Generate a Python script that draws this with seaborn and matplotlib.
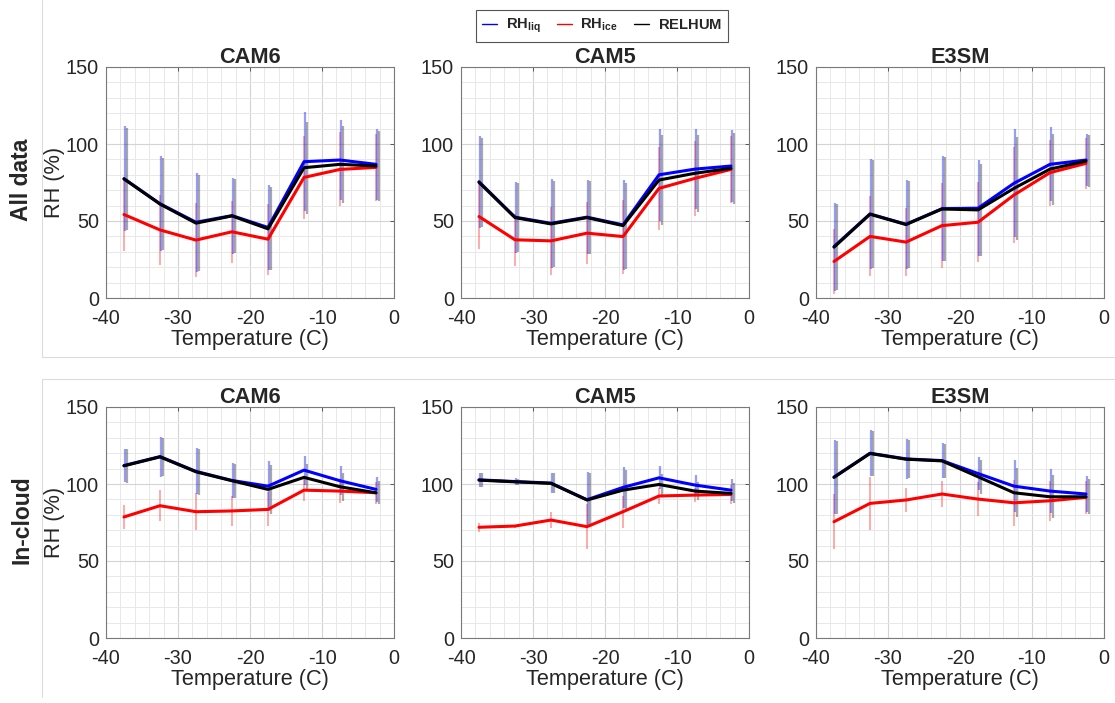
import numpy as np
import pandas as pd
import matplotlib
matplotlib.use("Agg")
import matplotlib.pyplot as plt
from matplotlib.lines import Line2D
from matplotlib.ticker import MultipleLocator
import seaborn as sns

# ---------------- data ----------------
temps = [-37.5, -32.5, -27.5, -22.5, -17.5, -12.5, -7.5, -2.5]
models = ["CAM6", "CAM5", "E3SM"]
rows = ["All data", "In-cloud"]
series_labels = ["RH_liq", "RH_ice", "RELHUM"]

# All data
cam6_all_liq = [77.5, 61.2, 49.2, 53.5, 45.8, 88.5, 89.6, 86.8]
cam6_all_ice = [54.2, 44.2, 37.6, 43.0, 38.2, 78.3, 83.5, 84.8]
cam6_all_rel = [77.3, 61.0, 48.6, 53.3, 44.9, 84.6, 86.8, 85.7]
cam6_all_liq_sd = [34, 30.7, 32, 24.7, 27.7, 32, 26, 23]
cam6_all_ice_sd = [24, 22.7, 24, 20, 23, 27, 24, 22]
cam6_all_rel_sd = [33, 30, 31, 24, 27, 30, 25, 22.5]

cam5_all_liq = [75.5, 52.5, 48.5, 52.5, 47.5, 80.0, 83.7, 85.7]
cam5_all_ice = [52.9, 37.8, 37.1, 42.1, 39.9, 71.2, 77.7, 83.5]
cam5_all_rel = [75.1, 52.2, 48.1, 52.2, 47.0, 76.6, 81.0, 84.2]
cam5_all_liq_sd = [30, 23, 29, 24, 29, 30, 26, 23.5]
cam5_all_ice_sd = [21, 17, 22, 20, 24, 27, 24.5, 22]
cam5_all_rel_sd = [29, 22.5, 28, 23.5, 28, 29, 25, 23]

e3sm_all_liq = [33.4, 54.6, 47.9, 58.0, 58.3, 74.5, 86.8, 89.6]
e3sm_all_ice = [23.7, 40.0, 36.3, 47.0, 49.2, 66.9, 81.4, 87.4]
e3sm_all_rel = [33.0, 54.4, 47.7, 57.8, 57.2, 71.2, 83.7, 88.9]
e3sm_all_liq_sd = [28.6, 35.6, 29, 34, 31, 35, 24, 17]
e3sm_all_ice_sd = [21, 26, 22, 27.5, 26, 31, 21.5, 16.5]
e3sm_all_rel_sd = [28, 35, 28.5, 33.5, 30, 33.5, 23, 17]

# In-cloud
cam6_cld_liq = [112.0, 117.8, 108.2, 102.3, 98.6, 109.0, 102.1, 96.5]
cam6_cld_ice = [78.6, 85.9, 82.0, 82.5, 83.5, 96.0, 95.4, 94.3]
cam6_cld_rel = [111.8, 117.6, 107.9, 102.1, 96.5, 104.3, 98.2, 94.3]
cam6_cld_liq_sd = [11, 13, 15, 11.3, 16.4, 9.5, 9.5, 8]
cam6_cld_ice_sd = [8, 10, 12, 10, 11, 7, 8, 7]
cam6_cld_rel_sd = [11, 12.5, 15, 11, 16, 9, 9, 7.5]

cam5_cld_liq = [102.7, 101.6, 100.6, 89.8, 97.8, 104.0, 99.3, 96.0]
cam5_cld_ice = [71.9, 72.7, 76.6, 72.3, 82.0, 92.2, 92.8, 93.2]
cam5_cld_rel = [102.5, 101.4, 100.4, 89.6, 96.0, 99.7, 95.4, 93.9]
cam5_cld_liq_sd = [4.5, 2, 6.5, 18, 13.5, 7.5, 6.5, 7]
cam5_cld_ice_sd = [3, 1, 5, 14.6, 10.5, 5, 4.5, 6]
cam5_cld_rel_sd = [4.5, 2, 6.5, 17.5, 13, 7, 6, 6.5]

e3sm_cld_liq = [104.5, 120.0, 116.3, 115.2, 106.8, 98.6, 95.4, 93.5]
e3sm_cld_ice = [75.5, 87.4, 89.6, 93.5, 90.2, 87.8, 89.1, 91.3]
e3sm_cld_rel = [104.3, 119.8, 116.1, 115.0, 104.7, 94.3, 91.7, 91.7]
e3sm_cld_liq_sd = [24, 15, 13, 11.3, 11, 17, 14.5, 11.6]
e3sm_cld_ice_sd = [18, 17, 7.5, 8.6, 11, 14.8, 13, 10.7]
e3sm_cld_rel_sd = [23.5, 14.5, 12.5, 11, 11, 16, 14, 11.5]

panels = {
    (0, 0): (cam6_all_liq, cam6_all_ice, cam6_all_rel, cam6_all_liq_sd, cam6_all_ice_sd, cam6_all_rel_sd),
    (0, 1): (cam5_all_liq, cam5_all_ice, cam5_all_rel, cam5_all_liq_sd, cam5_all_ice_sd, cam5_all_rel_sd),
    (0, 2): (e3sm_all_liq, e3sm_all_ice, e3sm_all_rel, e3sm_all_liq_sd, e3sm_all_ice_sd, e3sm_all_rel_sd),
    (1, 0): (cam6_cld_liq, cam6_cld_ice, cam6_cld_rel, cam6_cld_liq_sd, cam6_cld_ice_sd, cam6_cld_rel_sd),
    (1, 1): (cam5_cld_liq, cam5_cld_ice, cam5_cld_rel, cam5_cld_liq_sd, cam5_cld_ice_sd, cam5_cld_rel_sd),
    (1, 2): (e3sm_cld_liq, e3sm_cld_ice, e3sm_cld_rel, e3sm_cld_liq_sd, e3sm_cld_ice_sd, e3sm_cld_rel_sd),
}

# ---------------- style ----------------
sns.set_style("white")
plt.rcParams["font.family"] = ["Liberation Sans", "DejaVu Sans"]
plt.rcParams["axes.unicode_minus"] = False
plt.rcParams["mathtext.fontset"] = "custom"
plt.rcParams["mathtext.rm"] = "Liberation Sans"
plt.rcParams["mathtext.bf"] = "Liberation Sans:bold"
plt.rcParams["mathtext.it"] = "Liberation Sans:italic"

line_colors = {"RH_liq": "#0000ff", "RH_ice": "#ff0000", "RELHUM": "#000000"}
bar_colors = {"RH_liq": (0.1, 0.15, 0.95, 0.45), "RH_ice": (1.0, 0.1, 0.1, 0.4), "RELHUM": (0.15, 0.15, 0.2, 0.4)}
bar_offsets = {"RH_liq": 0.2, "RH_ice": -0.05, "RELHUM": 0.45}
bar_widths = {"RH_liq": 1.6, "RH_ice": 1.3, "RELHUM": 1.6}

TICK_FS = 14.3
LAB_FS = 15.7

W, H = 1115, 703
fig = plt.figure(figsize=(W / 100, H / 100), dpi=100)

col_left = [106, 461, 816]
ax_w = 288
row_top = [67, 407]
ax_h = 231

for (r, c), (liq, ice, rel, liq_sd, ice_sd, rel_sd) in panels.items():
    ax = fig.add_axes([col_left[c] / W, 1 - (row_top[r] + ax_h) / H, ax_w / W, ax_h / H])
    vals = {"RH_liq": liq, "RH_ice": ice, "RELHUM": rel}
    sds = {"RH_liq": liq_sd, "RH_ice": ice_sd, "RELHUM": rel_sd}

    # error bars
    for s in ["RH_ice", "RH_liq", "RELHUM"]:
        ax.errorbar(np.array(temps) + bar_offsets[s], vals[s], yerr=sds[s], fmt="none",
                    ecolor=bar_colors[s], elinewidth=bar_widths[s], capsize=0, zorder=2)

    df = pd.DataFrame({
        "T": temps * 3,
        "RH": list(liq) + list(ice) + list(rel),
        "var": ["RH_liq"] * 8 + ["RH_ice"] * 8 + ["RELHUM"] * 8,
    })
    sns.lineplot(data=df, x="T", y="RH", hue="var", hue_order=series_labels,
                 palette=line_colors, linewidth=2.2, legend=False, ax=ax,
                 errorbar=None, zorder=3)

    ax.set_xlim(-40, 0)
    ax.set_ylim(0, 150)
    ax.xaxis.set_major_locator(MultipleLocator(10))
    ax.xaxis.set_minor_locator(MultipleLocator(2))
    ax.yaxis.set_major_locator(MultipleLocator(50))
    ax.yaxis.set_minor_locator(MultipleLocator(10))
    ax.grid(True, which="major", color="#d4d4d4", linewidth=0.8)
    ax.grid(True, which="minor", color="#e8e8e8", linewidth=0.7)
    ax.set_axisbelow(True)
    for sp in ax.spines.values():
        sp.set_visible(True)
        sp.set_color("#7a7a7a")
        sp.set_linewidth(0.8)
    ax.tick_params(which="major", direction="in", length=3, width=0.7, color="#555555",
                   top=True, right=True, labelsize=TICK_FS, labelcolor="#262626")
    ax.tick_params(axis="x", which="major", pad=8)
    ax.tick_params(axis="y", which="major", pad=5)
    ax.tick_params(which="minor", length=0)
    ax.set_xlabel("Temperature (C)", fontsize=LAB_FS, color="#262626", labelpad=1)
    if c == 0:
        ax.set_ylabel("RH (%)", fontsize=LAB_FS, color="#262626", labelpad=1)
    else:
        ax.set_ylabel("")
    ax.set_title(models[c], fontsize=LAB_FS, fontweight="bold", pad=3)

# row labels
fig.text(22 / W, 1 - 180 / H, rows[0], rotation=90, fontsize=16.5, fontweight="bold",
         ha="center", va="center")
fig.text(22 / W, 1 - 520 / H, rows[1], rotation=90, fontsize=16.5, fontweight="bold",
         ha="center", va="center")

# panel borders
pc = "#dcdcdc"
fig.add_artist(Line2D([42 / W, 42 / W], [1 - 0 / H, 1 - 357 / H], color=pc, lw=0.8))
fig.add_artist(Line2D([42 / W, 1.0], [1 - 357 / H, 1 - 357 / H], color=pc, lw=0.8))
fig.add_artist(Line2D([42 / W, 42 / W], [1 - 379 / H, 1 - 697 / H], color=pc, lw=0.8))
fig.add_artist(Line2D([42 / W, 1.0], [1 - 379 / H, 1 - 379 / H], color=pc, lw=0.8))

# legend
handles = [Line2D([], [], color=line_colors[s], lw=1.0) for s in series_labels]
labels = [r"$\mathbf{RH_{liq}}$", r"$\mathbf{RH_{ice}}$", r"$\mathbf{RELHUM}$"]
leg = fig.legend(handles, labels, loc="upper center", bbox_to_anchor=(602 / W, 1 - 3 / H),
                 ncol=3, fontsize=10.6, frameon=True, fancybox=False, edgecolor="#555555",
                 handlelength=1.0, handletextpad=0.6, columnspacing=1.1,
                 borderpad=0.45, framealpha=1)
leg.get_frame().set_linewidth(0.8)

fig.savefig("out.png", dpi=100)
